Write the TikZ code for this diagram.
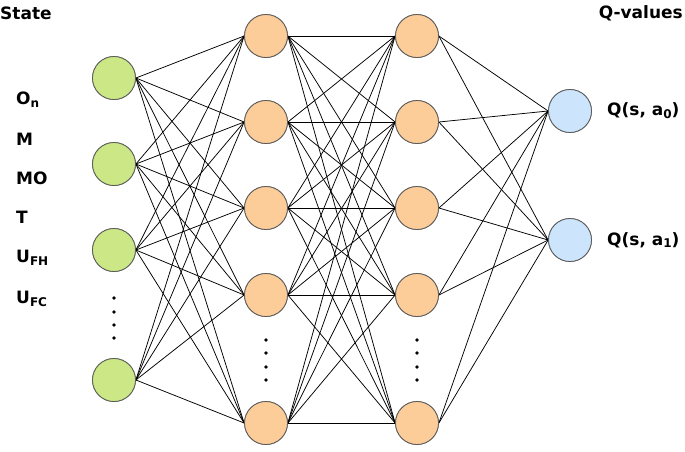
\documentclass[tikz,border=0pt]{standalone}
\usepackage{fontspec}
\setmainfont{DejaVu Sans}
\definecolor{ingreen}{RGB}{204,232,134}
\definecolor{hidorange}{RGB}{252,204,153}
\definecolor{outblue}{RGB}{204,228,252}
\definecolor{rimgray}{RGB}{90,90,90}
\newcommand{\sbs}[1]{\raisebox{-0.3ex}{\fontsize{12}{14}\selectfont #1}}
\begin{document}
\begin{tikzpicture}[x=1pt,y=-1pt,
  neuron/.style={circle,draw=rimgray,line width=0.8pt,minimum size=43pt,inner sep=0pt},
  inneuron/.style={neuron,fill=ingreen},
  hidneuron/.style={neuron,fill=hidorange},
  outneuron/.style={neuron,fill=outblue},
  conn/.style={black,line width=0.75pt},
  lbl/.style={font=\fontsize{17}{20}\selectfont\bfseries,inner sep=0pt}]
\useasboundingbox (0,0) rectangle (685,451);
% input layer
\foreach \i/\y in {1/78,2/164,3/250,4/380}
  \node[inneuron] (i\i) at (114,\y) {};
% hidden layers
\foreach \i/\y in {1/36,2/122,3/208,4/295,5/423}{
  \node[hidneuron] (h\i) at (266,\y) {};
  \node[hidneuron] (g\i) at (417,\y) {};
}
% output layer
\foreach \i/\y in {1/111,2/240}
  \node[outneuron] (o\i) at (570,\y) {};
% connections
\foreach \a in {1,...,4}
  \foreach \b in {1,...,5}
    \draw[conn] (i\a.east) -- (h\b.west);
\foreach \a in {1,...,5}
  \foreach \b in {1,...,5}
    \draw[conn] (h\a.east) -- (g\b.west);
\foreach \a in {1,...,5}
  \foreach \b in {1,2}
    \draw[conn] (g\a.east) -- (o\b.west);
% redraw nodes on top of the connectors
\foreach \i/\y in {1/78,2/164,3/250,4/380}
  \node[inneuron] at (114,\y) {};
\foreach \i/\y in {1/36,2/122,3/208,4/295,5/423}{
  \node[hidneuron] at (266,\y) {};
  \node[hidneuron] at (417,\y) {};
}
\foreach \i/\y in {1/111,2/240}
  \node[outneuron] at (570,\y) {};
% dots
\foreach \y in {298,312,325,338}
  \fill (114,\y) circle (1.8pt);
\foreach \y in {340,353,367,380}{
  \fill (266,\y) circle (1.8pt);
  \fill (417,\y) circle (1.8pt);
}
% labels
\node[lbl,anchor=west] (st) at (0,13) {State};
\node[lbl,anchor=east] (qv) at (683,13) {Q-values};
\node[lbl,anchor=west] (l1) at (16,100) {O\sbs{n}};
\node[lbl,anchor=west] (l2) at (16,139) {M};
\node[lbl,anchor=west] (l3) at (16,178) {MO};
\node[lbl,anchor=west] (l4) at (16,217) {T};
\node[lbl,anchor=west] (l5) at (16,258) {U\sbs{FH}};
\node[lbl,anchor=west] (l6) at (16,299) {U\sbs{FC}};
\node[lbl,anchor=west] (q0) at (607,111) {Q(s, a\sbs{0})};
\node[lbl,anchor=west] (q1) at (607,240) {Q(s, a\sbs{1})};
\end{tikzpicture}
\end{document}
